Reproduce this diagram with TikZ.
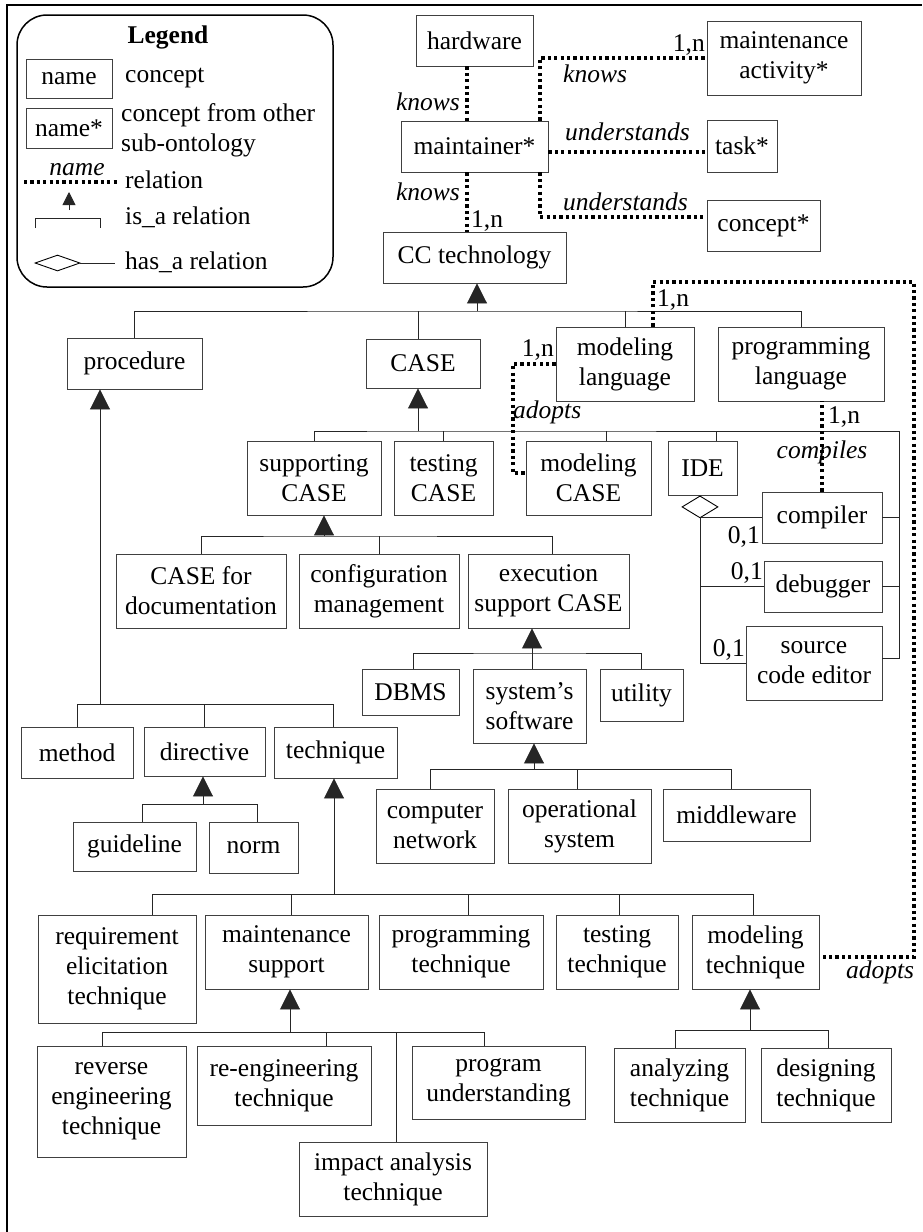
\documentclass[tikz,border=0pt]{standalone}
\usepackage{fontspec}
\setmainfont{Liberation Serif}
\usetikzlibrary{arrows.meta,shapes.geometric}
\newcommand\fs{\fontsize{25.5}{30}\selectfont}
\newcommand\bx[6]{\node[cbox, minimum width={(#4)-(#2)}, minimum height={(#5)-(#3)}] (#1) at ({((#2)+(#4))/2},{((#3)+(#5))/2}) {#6};}
\tikzset{
 cbox/.style={draw=black!75, line width=0.9pt, font=\fs, align=center, inner sep=1pt},
 lab/.style={font=\fs\itshape, inner sep=0pt},
 num/.style={font=\fs, inner sep=0pt},
 rel/.style={line width=3.6pt, dash pattern=on 3.2pt off 3.2pt, black},
 tree/.style={line width=0.9pt, black!85},
 isa/.style={tree, -{Triangle[width=20pt,length=20pt]}},
 dia/.style={draw=black, line width=0.9pt, diamond, inner sep=0pt},
}
\begin{document}
\begin{tikzpicture}[x=1pt,y=-1pt]
\useasboundingbox (0,0) rectangle (922,1232);
% outer frame
\draw[line width=2pt] (7,1232) -- (7,5) -- (922,5);
% legend
\draw[line width=1.5pt, rounded corners=30pt] (17,15) rectangle (333,287);
\node[font=\fs\bfseries, inner sep=0pt] (legtitle) at (168,37) {Legend};
\bx{lname}{26}{59}{112}{98}{name}
\node[num, anchor=west] (lt1) at (125,78) {concept};
\bx{lnamestar}{26}{108}{112}{148}{name*}
\node[num, anchor=west, align=left] (lt2) at (121,130) {concept from other\\sub-ontology};
\node[lab] (lt3) at (77,170) {name};
\coordinate (lr1) at (24,182); \coordinate (lr2) at (118,182);
\draw[rel] (lr1) -- (lr2);
\node[num, anchor=west] (lt4) at (125,180) {relation};
\coordinate (li1) at (69,210); \coordinate (li2) at (69,192);
\draw[tree, -{Triangle[width=13pt,length=13pt]}] (li1) -- (li2);
\draw[tree] (35,228) -- (35,218) -- (100,218) -- (100,228);
\node[num, anchor=west] (lt5) at (125,217) {is\_a relation};
\node[dia, minimum width=45pt, minimum height=16pt] (ldia) at (57.5,263) {};
\coordinate (lh) at (115,263);
\draw[tree] (ldia.east) -- (lh);
\node[num, anchor=west] (lt6) at (125,262) {has\_a relation};

% boxes
\bx{hw}{416}{15}{533}{66}{hardware}
\bx{mact}{707}{21}{861}{95}{maintenance\\activity*}
\bx{maint}{401}{121}{548}{172}{maintainer*}
\bx{task}{707}{120}{777}{172}{task*}
\bx{concept}{707}{200}{820}{251}{concept*}
\bx{cc}{383}{232}{566}{283}{CC technology}
\bx{proc}{67}{338}{202}{389}{procedure}
\bx{case}{366}{339}{480}{388}{CASE}
\bx{modlang}{556}{327}{694}{401}{modeling\\language}
\bx{proglang}{718}{327}{884}{401}{programming\\language}
\bx{supcase}{247}{441}{381}{515}{supporting\\CASE}
\bx{testcase}{394}{441}{493}{515}{testing\\CASE}
\bx{modcase}{526}{441}{651}{515}{modeling\\CASE}
\bx{ide}{668}{441}{737}{495}{IDE}
\bx{compiler}{762}{492}{882}{543}{compiler}
\bx{debugger}{764}{561}{882}{612}{debugger}
\bx{editor}{746}{626}{882}{700}{source\\code editor}
\bx{casedoc}{116}{554}{286}{628}{CASE for\\documentation}
\bx{config}{299}{554}{459}{628}{configuration\\management}
\bx{execsup}{468}{554}{629}{628}{execution\\support CASE}
\bx{dbms}{362}{669}{459}{715}{DBMS}
\bx{sys}{473}{669}{586}{743}{system's\\software}
\bx{utility}{600}{669}{683}{721}{utility}
\bx{compnet}{376}{789}{494}{863}{computer\\network}
\bx{opsys}{508}{789}{651}{863}{operational\\system}
\bx{middle}{663}{789}{810}{841}{middleware}
\bx{method}{21}{727}{133}{778}{method}
\bx{directive}{144}{727}{265}{776}{directive}
\bx{technique}{274}{727}{397}{778}{technique}
\bx{guideline}{73}{822}{196}{871}{guideline}
\bx{norm}{209}{822}{298}{873}{norm}
\bx{req}{38}{915}{196}{1023}{requirement\\elicitation\\technique}
\bx{maintsup}{205}{915}{368}{989}{maintenance\\support}
\bx{progtech}{379}{915}{543}{989}{programming\\technique}
\bx{testtech}{556}{915}{678}{989}{testing\\technique}
\bx{modtech}{692}{915}{819}{989}{modeling\\technique}
\bx{reverse}{37}{1046}{186}{1157}{reverse\\engineering\\technique}
\bx{reeng}{197}{1046}{371}{1125}{re-engineering\\technique}
\bx{progund}{412}{1046}{585}{1119}{program\\understanding}
\bx{impact}{299}{1142}{487}{1216}{impact analysis\\technique}
\bx{analyz}{614}{1048}{745}{1122}{analyzing\\technique}
\bx{design}{761}{1048}{891}{1122}{designing\\technique}

% is_a trees
\coordinate (f1) at (477,311);
\draw[isa] (f1) -- (f1 |- cc.south);
\draw[tree] (proc.north) |- (f1) -| (proglang.north);
\draw[tree] ([xshift=-5pt]case.north) -- ([xshift=-5pt]case.north |- f1);
\draw[tree] (modlang.north) -- (modlang.north |- f1);

\coordinate (f2) at (418,431);
\coordinate (r2) at (899,658);
\draw[isa] (f2) -- (f2 |- case.south);
\draw[tree] (supcase.north) |- (f2) -| (r2) -- (r2 -| editor.east);
\draw[tree] (testcase.north) -- (testcase.north |- f2);
\draw[tree] ([xshift=17.5pt]modcase.north) -- ([xshift=17.5pt]modcase.north |- f2);
\draw[tree] ([xshift=13.5pt]ide.north) -- ([xshift=13.5pt]ide.north |- f2);
\draw[tree] (compiler.east) -- (compiler.east -| r2);
\draw[tree] (debugger.east) -- (debugger.east -| r2);

\coordinate (f3) at (324,536);
\draw[isa] (f3) -- (f3 |- supcase.south);
\draw[tree] (casedoc.north) |- (f3) -| ([xshift=3.5pt]execsup.north);
\draw[tree] (config.north) -- (config.north |- f3);

\coordinate (f4) at (532,653);
\draw[isa] (f4) -- (f4 |- execsup.south);
\draw[tree] ([xshift=2.5pt]dbms.north) |- (f4) -| (utility.north);
\draw[tree] (f4) -- (f4 |- sys.north);

\coordinate (f5) at (534,769);
\draw[isa] (f5) -- (f5 |- sys.south);
\draw[tree] ([xshift=-5pt]compnet.north) |- (f5) -| ([xshift=-5.5pt]middle.north);
\draw[tree] ([xshift=-2.5pt]opsys.north) -- ([xshift=-2.5pt]opsys.north |- f5);

\coordinate (f6) at (100,704);
\draw[isa] (f6) -- (f6 |- proc.south);
\draw[tree] (method.north) |- (f6) -| ([xshift=-2.5pt]technique.north);
\draw[tree] (directive.north) -- (directive.north |- f6);

\coordinate (f7) at (203,804);
\draw[isa] (f7) -- (f7 |- directive.south);
\draw[tree] ([xshift=7.5pt]guideline.north) |- (f7) -| ([xshift=3.5pt]norm.north);

\coordinate (f8) at (334,894);
\draw[isa] (f8) -- (f8 |- technique.south);
\draw[tree] ([xshift=35pt]req.north) |- (f8) -| ([xshift=-2.5pt]modtech.north);
\draw[tree] ([xshift=4.5pt]maintsup.north) -- ([xshift=4.5pt]maintsup.north |- f8);
\draw[tree] ([xshift=7pt]progtech.north) -- ([xshift=7pt]progtech.north |- f8);
\draw[tree] ([xshift=2pt]testtech.north) -- ([xshift=2pt]testtech.north |- f8);

\coordinate (f9) at (290,1032);
\draw[isa] (f9) -- (f9 |- maintsup.south);
\draw[tree] ([xshift=-9.5pt]reverse.north) |- (f9) -| ([xshift=-14.5pt]progund.north);
\draw[tree] ([xshift=42pt]reeng.north) -- ([xshift=42pt]reeng.north |- f9);
\draw[tree] ([xshift=3pt]impact.north) -- ([xshift=3pt]impact.north |- f9);

\coordinate (f10) at (750,1030);
\draw[isa] (f10) -- (f10 |- modtech.south);
\draw[tree] ([xshift=-4.5pt]analyz.north) |- (f10) -| ([xshift=2pt]design.north);

% has_a (IDE)
\node[dia, minimum width=36pt, minimum height=22pt, anchor=north] (dia) at ([xshift=-2.5pt]ide.south) {};
\draw[tree] (dia.south) |- (editor.west);
\draw[tree] (dia.south |- compiler.west) -- (compiler.west);
\draw[tree] (dia.south |- debugger.west) -- (debugger.west);
\node[num, anchor=east] (n01a) at (760,537) {0,1};
\node[num, anchor=east] (n01b) at (763,573) {0,1};
\node[num, anchor=east] (n01c) at (745,650) {0,1};

% relations
\draw[rel] ([xshift=-7.5pt]hw.south) -- ([xshift=-7.5pt]maint.north);
\draw[rel] ([xshift=-7.5pt]maint.south) -- ([xshift=-7.5pt]cc.north);
\draw[rel] ([xshift=65.5pt]maint.north) |- (mact.west);
\draw[rel] ([yshift=-5.5pt]maint.east) -- ([yshift=-5.5pt]maint.east -| task.west);
\draw[rel] ([xshift=65.5pt]maint.south) |- ([yshift=8.5pt]concept.west);
\coordinate (c1) at (914,282);
\draw[rel] ([xshift=28pt]modlang.north) |- (c1) |- ([yshift=-5pt]modtech.east);
\coordinate (c2) at (513,473);
\draw[rel] (modlang.west) -| (c2) -- (c2 -| modcase.west);
\draw[rel] (compiler.north) -- (compiler.north |- proglang.south);

% relation labels
\node[lab, anchor=east] (k1) at (460,102) {knows};
\node[lab, anchor=east] (k2) at (460,192) {knows};
\node[num, anchor=west] (m1) at (471,221) {1,n};
\node[lab, anchor=west] (k3) at (563,74) {knows};
\node[num, anchor=east] (m2) at (705,45) {1,n};
\node[lab, anchor=west] (u1) at (565,132) {understands};
\node[lab, anchor=west] (u2) at (563,202) {understands};
\node[num, anchor=west] (m3) at (657,300) {1,n};
\node[lab] (a1) at (880,972) {adopts};
\node[num, anchor=east] (m4) at (554,350) {1,n};
\node[lab, anchor=west] (a2) at (513,412) {adopts};
\node[num, anchor=west] (m5) at (828,417) {1,n};
\node[lab] (cp) at (822,452) {compiles};
\end{tikzpicture}
\end{document}
